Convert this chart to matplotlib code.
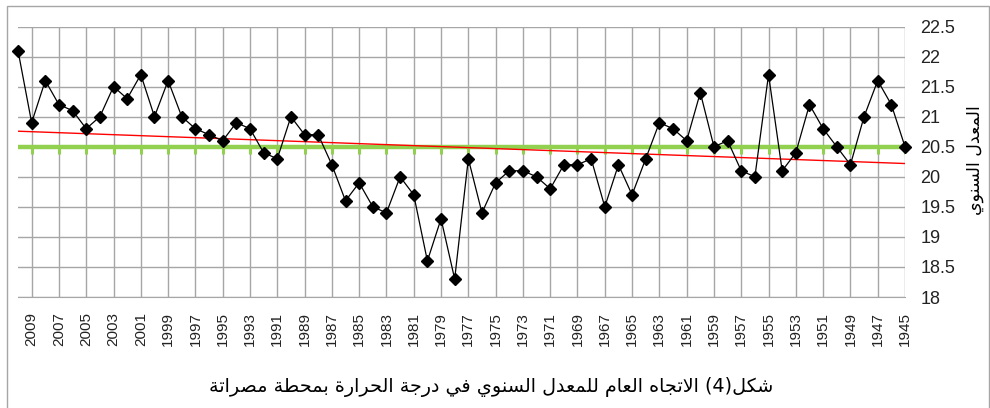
import numpy as np
import matplotlib
matplotlib.use("Agg")
import matplotlib.pyplot as plt
from matplotlib.patches import Rectangle

# annual mean temperature, Misrata station, 2010 -> 1945
years = np.arange(2010, 1944, -1)
temps = [22.1, 20.9, 21.6, 21.2, 21.1, 20.8, 21.0, 21.5, 21.3, 21.7,
         21.0, 21.6, 21.0, 20.8, 20.7, 20.6, 20.9, 20.8, 20.4, 20.3,
         21.0, 20.7, 20.7, 20.2, 19.6, 19.9, 19.5, 19.4, 20.0, 19.7,
         18.6, 19.3, 18.3, 20.3, 19.4, 19.9, 20.1, 20.1, 20.0, 19.8,
         20.2, 20.2, 20.3, 19.5, 20.2, 19.7, 20.3, 20.9, 20.8, 20.6,
         21.4, 20.5, 20.6, 20.1, 20.0, 21.7, 20.1, 20.4, 21.2, 20.8,
         20.5, 20.2, 21.0, 21.6, 21.2, 20.5]
tick_years = np.arange(2009, 1944, -2)
y_ticks = np.arange(18, 22.51, 0.5)
title_ar = "شكل(4) الاتجاه العام للمعدل السنوي في درجة الحرارة بمحطة مصراتة"
ylabel_ar = "المعدل السنوي"

# matplotlib does no arabic shaping, so map letters to presentation forms
# (isolated, final, initial, medial)
FORMS = {
    'ا': (0xFE8D, 0xFE8E, None, None), 'ب': (0xFE8F, 0xFE90, 0xFE91, 0xFE92),
    'ة': (0xFE93, 0xFE94, None, None), 'ت': (0xFE95, 0xFE96, 0xFE97, 0xFE98),
    'ج': (0xFE9D, 0xFE9E, 0xFE9F, 0xFEA0), 'ح': (0xFEA1, 0xFEA2, 0xFEA3, 0xFEA4),
    'د': (0xFEA9, 0xFEAA, None, None), 'ر': (0xFEAD, 0xFEAE, None, None),
    'س': (0xFEB1, 0xFEB2, 0xFEB3, 0xFEB4), 'ش': (0xFEB5, 0xFEB6, 0xFEB7, 0xFEB8),
    'ص': (0xFEB9, 0xFEBA, 0xFEBB, 0xFEBC), 'ط': (0xFEC1, 0xFEC2, 0xFEC3, 0xFEC4),
    'ع': (0xFEC9, 0xFECA, 0xFECB, 0xFECC), 'ف': (0xFED1, 0xFED2, 0xFED3, 0xFED4),
    'ك': (0xFED9, 0xFEDA, 0xFEDB, 0xFEDC), 'ل': (0xFEDD, 0xFEDE, 0xFEDF, 0xFEE0),
    'م': (0xFEE1, 0xFEE2, 0xFEE3, 0xFEE4), 'ن': (0xFEE5, 0xFEE6, 0xFEE7, 0xFEE8),
    'ه': (0xFEE9, 0xFEEA, 0xFEEB, 0xFEEC), 'و': (0xFEED, 0xFEEE, None, None),
    'ي': (0xFEF1, 0xFEF2, 0xFEF3, 0xFEF4),
}


def shape(text):
    toks = []
    i = 0
    while i < len(text):
        if text[i] == 'ل' and i + 1 < len(text) and text[i + 1] == 'ا':
            toks.append('LA')
            i += 2
        else:
            toks.append(text[i])
            i += 1

    def dual(t):
        return t in FORMS and FORMS[t][2] is not None

    out = []
    for k, t in enumerate(toks):
        jp = k > 0 and dual(toks[k - 1])
        if t == 'LA':
            out.append(chr(0xFEFC if jp else 0xFEFB))
            continue
        if t not in FORMS:
            out.append(t)
            continue
        jn = dual(t) and k + 1 < len(toks) and (toks[k + 1] in FORMS or toks[k + 1] == 'LA')
        iso, fin, ini, med = FORMS[t]
        if jp and jn:
            out.append(chr(med))
        elif jp:
            out.append(chr(fin))
        elif jn:
            out.append(chr(ini))
        else:
            out.append(chr(iso))
    s = ''.join(out)[::-1]
    return s.translate(str.maketrans('()', ')('))


W, H = 990, 408
fig = plt.figure(figsize=(W / 100, H / 100), dpi=100)
ax = fig.add_axes([18 / W, 1 - 297 / H, (905 - 18) / W, (297 - 26.5) / H])

grid_c = '#a6a6a6'
mean_t = np.mean(temps)
slope, icpt = np.polyfit(years, temps, 1)

ax.plot(years, np.full(len(years), mean_t), color='#92d050', lw=3.2, zorder=3)
ax.vlines(tick_years, mean_t - 0.11, mean_t, color='#92d050', lw=2.2, zorder=3)
ax.plot(years, slope * years + icpt, color='#ff0000', lw=1.0, zorder=4)
ax.plot(years, temps, color='black', lw=0.9, marker='D', ms=5.8, zorder=5,
        clip_on=False)

ax.set_xlim(2010, 1945)
ax.set_ylim(18, 22.5)
ax.set_xticks(tick_years)
ax.set_xticklabels([str(y) for y in tick_years], rotation=90,
                   fontsize=11, family='Liberation Sans', color='#222222')
ax.set_yticks(y_ticks)
ax.set_yticklabels(['%g' % v for v in y_ticks], fontsize=13,
                   family='Liberation Sans', color='#222222')
ax.yaxis.tick_right()
ax.tick_params(axis='both', length=0)
ax.tick_params(axis='x', pad=11)
ax.tick_params(axis='y', pad=11)
ax.grid(True, color=grid_c, lw=1.0)
for side in ['left', 'right', 'top']:
    ax.spines[side].set_visible(False)
ax.spines['bottom'].set_color(grid_c)

fig.text(975 / W, 1 - 160 / H, shape(ylabel_ar), rotation=90, fontsize=12.5,
         family='DejaVu Sans', ha='center', va='center')
fig.text(491 / W, 1 - 387 / H, shape(title_ar), fontsize=13.8,
         family='DejaVu Sans', ha='center', va='center')

fig.patches.append(Rectangle((6.5 / W, -0.05), (988.5 - 6.5) / W, 1.05 - 6.5 / H,
                             transform=fig.transFigure, fill=False,
                             edgecolor='#a6a6a6', lw=1.0))

fig.savefig('out.png', dpi=100)
